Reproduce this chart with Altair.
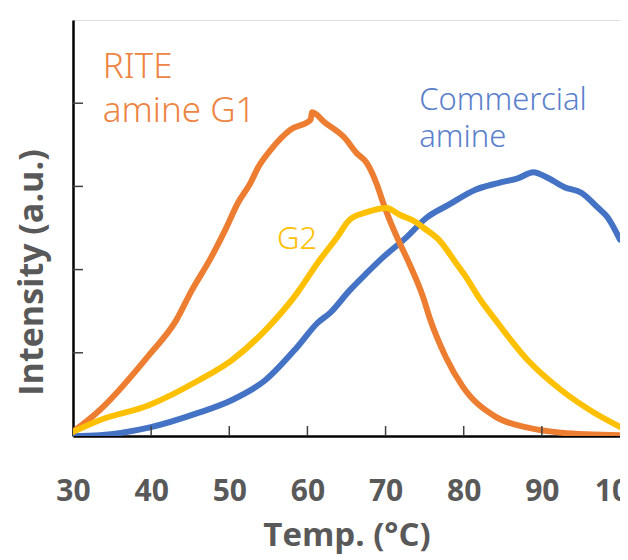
import altair as alt
import pandas as pd

# Series values (temperature in °C, intensity in a.u.)
g1_t = [30.0, 33.4, 39.7, 43.2, 45.2, 47.7, 49.5, 51.1, 52.7, 53.7, 55.3, 57.8, 60.4, 60.6, 62.2,
        64.7, 66.3, 67.6, 68.9, 69.7, 70.5, 71.8, 73.0, 74.8, 75.6, 77.7, 79.9, 84.1, 88.2, 92.5, 100.0]
g1_v = [0.05, 0.31, 0.97, 1.39, 1.75, 2.15, 2.48, 2.80, 3.04, 3.23, 3.44, 3.68, 3.80, 3.89, 3.77,
        3.59, 3.40, 3.28, 3.02, 2.80, 2.60, 2.32, 2.08, 1.67, 1.43, 0.95, 0.59, 0.23, 0.10, 0.04, 0.01]

g2_t = [30.0, 33.4, 39.7, 46.1, 50.3, 54.6, 58.7, 61.3, 63.8, 65.4, 67.6, 70.1, 71.8, 73.9, 74.9,
        76.8, 79.0, 80.3, 81.9, 84.1, 88.2, 92.5, 96.7, 100.0]
g2_v = [0.05, 0.19, 0.37, 0.67, 0.91, 1.27, 1.72, 2.08, 2.39, 2.60, 2.69, 2.74, 2.66, 2.57, 2.50,
        2.36, 2.08, 1.91, 1.67, 1.39, 0.91, 0.55, 0.28, 0.11]

cm_t = [30.0, 33.4, 39.7, 46.1, 50.3, 54.6, 58.7, 61.3, 62.9, 65.4, 67.6, 69.7, 72.7, 75.2, 78.1,
        81.5, 84.4, 87.0, 88.9, 90.8, 92.9, 95.1, 97.1, 98.4, 100.0]
cm_v = [0.0, 0.01, 0.10, 0.28, 0.43, 0.67, 1.07, 1.36, 1.48, 1.75, 1.96, 2.15, 2.39, 2.62, 2.78,
        2.96, 3.04, 3.10, 3.17, 3.10, 2.99, 2.92, 2.75, 2.63, 2.36]

x_ticks = [30, 40, 50, 60, 70, 80, 90, 100]
x_inner_ticks = [40, 50, 60, 70, 80, 90]
y_inner_ticks = [1, 2, 3, 4]

label_text = ["RITE", "amine G1", "G2", "Commercial", "amine"]
label_t = [33.8, 33.8, 56.1, 74.3, 74.3]
label_v = [4.30, 3.77, 2.25, 3.92, 3.47]
label_size = [35, 35, 31, 31, 31]
label_col = ["#EE8443", "#EE8443", "#FFC000", "#5B80CC", "#5B80CC"]

c_orange = "#ED7D31"
c_yellow = "#FFC000"
c_blue = "#4472C4"

W, H = 547, 416
xs = alt.Scale(domain=[30, 100], nice=False, zero=False)
ys = alt.Scale(domain=[0, 5], nice=False, zero=False)

FONT = "Open Sans"

xaxis = alt.Axis(values=x_ticks, title="Temp. (°C)", grid=False, ticks=False, tickSize=0,
                 labelFontSize=30, labelFont=FONT, labelFontWeight="bold", labelColor="#595959",
                 labelPadding=40, labelFlush=False, domainColor="#000000", domainWidth=2.5,
                 titleFontSize=33, titleFont=FONT, titleFontWeight="bold", titleColor="#595959",
                 titleBaseline="alphabetic", titleY=109)
yaxis = alt.Axis(values=y_inner_ticks, labels=False, ticks=False, tickSize=0, grid=False,
                 title="Intensity (a.u.)", domainColor="#000000", domainWidth=2.5,
                 titleFontSize=34, titleFont=FONT, titleFontWeight="bold", titleColor="#595959",
                 titleBaseline="alphabetic", titleAlign="center", titleX=-31, titleY=252)

df_cm = pd.DataFrame({"t": cm_t, "v": cm_v})
df_g1 = pd.DataFrame({"t": g1_t, "v": g1_v})
df_g2 = pd.DataFrame({"t": g2_t, "v": g2_v})

def line(df, col):
    return alt.Chart(df).mark_line(color=col, strokeWidth=6, clip=True, interpolate="monotone",
                                   strokeJoin="round", strokeCap="round").encode(
        x=alt.X("t:Q", scale=xs, axis=xaxis),
        y=alt.Y("v:Q", scale=ys, axis=yaxis),
        order="t:Q",
    )

xt = alt.Chart(pd.DataFrame({"t": x_inner_ticks})).mark_rule(color="#404040", strokeWidth=1.5).encode(
    x=alt.X("t:Q", scale=xs), y=alt.value(H), y2=alt.value(H - 10))
yt = alt.Chart(pd.DataFrame({"v": y_inner_ticks})).mark_rule(color="#404040", strokeWidth=1.5).encode(
    y=alt.Y("v:Q", scale=ys), x=alt.value(0), x2=alt.value(10))

labels = alt.Chart(pd.DataFrame({"text": label_text, "t": label_t, "v": label_v,
                                 "c": label_col, "s": label_size})).mark_text(
    align="left", baseline="alphabetic", font="Noto Sans", fontWeight=300).encode(
    x=alt.X("t:Q", scale=xs), y=alt.Y("v:Q", scale=ys), text="text:N",
    color=alt.Color("c:N", scale=None), size=alt.Size("s:Q", scale=None))

chart = alt.layer(
    line(df_cm, c_blue), line(df_g1, c_orange), line(df_g2, c_yellow), xt, yt, labels
).properties(
    width=W, height=H,
    autosize=alt.AutoSizeParams(type="none"),
    padding={"left": 65, "top": 12, "right": 0, "bottom": 120},
).configure_view(stroke="#333333", strokeWidth=1.5).configure(background="white")

chart.save("out.html", embed_options={"renderer": "svg", "actions": False})
